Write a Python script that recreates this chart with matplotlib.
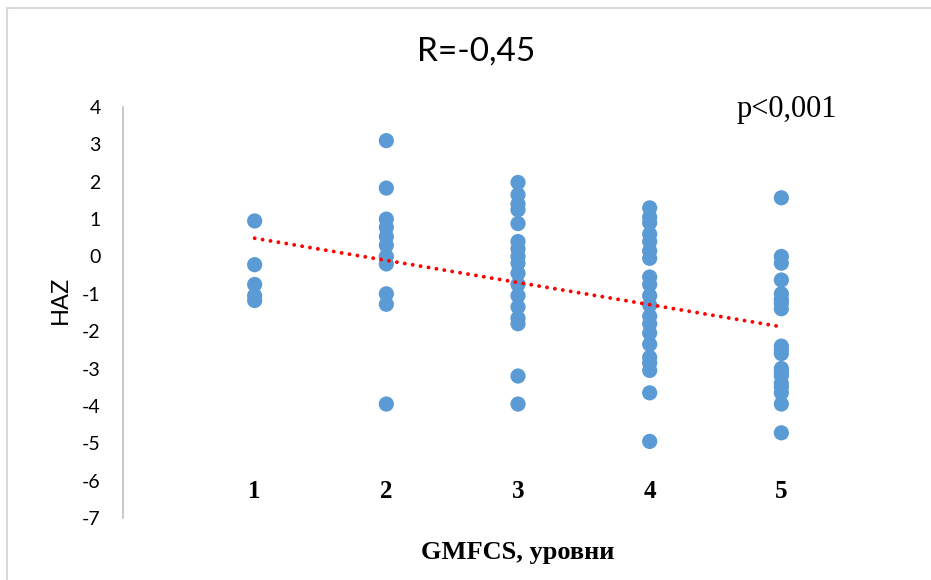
import numpy as np
import matplotlib
matplotlib.use('Agg')
import matplotlib.pyplot as plt

# HAZ по уровням GMFCS
levels = [1, 2, 3, 4, 5]
haz_1 = [0.95, -0.22, -0.75, -1.05, -1.18]
haz_2 = [3.1, 1.83, 1.0, 0.78, 0.53, 0.3, 0.0, -0.2, -1.0, -1.28, -3.95]
haz_3 = [1.98, 1.65, 1.4, 1.25, 0.88, 0.4, 0.2, 0.0, -0.18, -0.45, -0.75,
         -1.05, -1.35, -1.65, -1.8, -3.2, -3.95]
haz_4 = [1.3, 1.05, 0.9, 0.6, 0.4, 0.15, -0.05, -0.55, -0.75, -1.05, -1.3,
         -1.6, -1.8, -2.05, -2.35, -2.7, -2.85, -3.05, -3.65, -4.95]
haz_5 = [1.57, 0.0, -0.18, -0.63, -1.0, -1.15, -1.25, -1.4, -2.4, -2.5, -2.6,
         -3.0, -3.1, -3.2, -3.4, -3.5, -3.65, -3.95, -4.72]
groups = [haz_1, haz_2, haz_3, haz_4, haz_5]
y_ticks = list(range(4, -8, -1))

x = np.concatenate([[lv] * len(g) for lv, g in zip(levels, groups)])
y = np.concatenate(groups)

fig = plt.figure(figsize=(9.31, 5.8), dpi=100)
ax = fig.add_axes([0.1321, 0.1069, 0.8486, 0.7086])

ax.scatter(x, y, s=120, color='#5B9BD5', edgecolors='none', zorder=3)

# линейный тренд
k, b = np.polyfit(x, y, 1)
xt = np.array([1, 5])
ax.plot(xt, k * xt + b, color='red', lw=2.8,
        linestyle=(0, (0.01, 2.05)), dash_capstyle='round', zorder=4)

ax.set_xlim(0, 6)
ax.set_ylim(-7, 4)
ax.set_yticks(y_ticks)
ax.set_yticklabels([str(t) for t in y_ticks], fontfamily='Lato', fontsize=14)
ax.set_xticks(levels)
ax.set_xticklabels([str(lv) for lv in levels], fontfamily='Liberation Serif',
                   fontweight='bold', fontsize=18)
ax.tick_params(axis='y', length=0, pad=16)
ax.tick_params(axis='x', length=0, pad=-27)

for side in ['top', 'right', 'bottom']:
    ax.spines[side].set_visible(False)
ax.spines['left'].set_color('#BFBFBF')
ax.spines['left'].set_linewidth(1.2)

ax.set_ylabel('HAZ', fontfamily='Lato', fontsize=17)
ax.yaxis.set_label_coords(-0.079, 0.53)
ax.yaxis.label.set_va('center')
ax.set_xlabel('GMFCS, уровни', fontfamily='Liberation Serif',
              fontweight='bold', fontsize=19)
ax.xaxis.set_label_coords(0.5, -0.083)
ax.xaxis.label.set_va('center')

fig.text(476 / 931, 1 - 52 / 580, 'R=-0,45', fontfamily='Lato', fontsize=24,
         ha='center', va='center')
fig.text(787 / 931, 1 - 110 / 580, 'p<0,001', fontfamily='Liberation Serif',
         fontsize=22, ha='center', va='center')

# рамка области диаграммы
fig.patches.append(plt.Rectangle((7 / 931, -0.1), 1.2, 1 - 8 / 580 + 0.1,
                                 transform=fig.transFigure, fill=False,
                                 edgecolor='#D9D9D9', lw=1.5))

fig.savefig('out.png', dpi=100)
